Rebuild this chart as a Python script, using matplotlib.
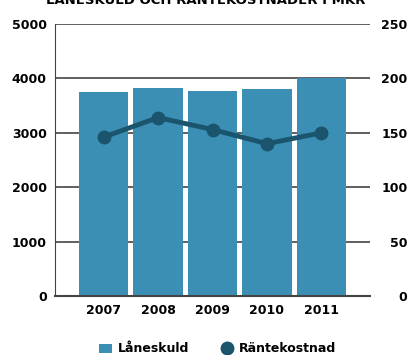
import matplotlib.pyplot as plt
import numpy as np
from matplotlib.lines import Line2D
from matplotlib.patches import Patch

# data
years = ["2007", "2008", "2009", "2010", "2011"]
laneskuld = [3750, 3825, 3770, 3805, 4005]
rantekostnad = [146, 164, 153, 140, 150]

bar_color = "#3b8fb4"
line_color = "#1b546d"

fig = plt.figure(figsize=(4.11, 3.55), dpi=100)
ax = fig.add_axes([55 / 411, 1 - 296 / 355, 315 / 411, 272 / 355])
ax2 = ax.twinx()

x = np.arange(len(years))
ax.bar(x, laneskuld, width=0.9, color=bar_color, zorder=2)
ax.set_ylim(0, 5000)
ax.set_xlim(-0.89, 4.89)
ax.set_yticks(range(0, 5001, 1000))
ax.grid(axis="y", color="#444444", linewidth=1.2, zorder=0)
ax.set_axisbelow(True)
ax.set_xticks(x)
ax.set_xticklabels(years)

ax2.plot(x, rantekostnad, color=line_color, linewidth=3.5, marker="o",
         markersize=9, zorder=3)
ax2.set_ylim(0, 250)
ax2.set_yticks(range(0, 251, 50))

for a in (ax, ax2):
    for s in ("top", "right"):
        a.spines[s].set_visible(False)
    a.tick_params(length=0, labelsize=9)
    for lbl in a.get_xticklabels() + a.get_yticklabels():
        lbl.set_fontweight("bold")
ax2.spines["left"].set_visible(False)
ax2.spines["bottom"].set_visible(False)
ax.spines["left"].set_color("#444444")
ax.spines["bottom"].set_color("#444444")
ax.spines["bottom"].set_linewidth(1.5)
ax.tick_params(axis="y", pad=6)
ax.tick_params(axis="x", pad=6)
ax2.tick_params(axis="y", pad=27)
for lbl in ax2.get_yticklabels():
    lbl.set_horizontalalignment("right")

# title is clipped at the top in the reference
fig.text(0.5, 0.998, "LÅNESKULD OCH RÄNTEKOSTNADER I MKR", ha="center",
         va="center", fontsize=9.5, fontweight="bold")

handles = [Patch(facecolor=bar_color, label="Låneskuld"),
           Line2D([], [], color=line_color, marker="o", linestyle="none",
                  markersize=9, label="Räntekostnad")]
fig.legend(handles=handles, loc="center", bbox_to_anchor=(0.53, 1 - 349 / 355),
           ncol=2, frameon=False, prop={"weight": "bold", "size": 9},
           handlelength=1.0, columnspacing=2.5, handletextpad=0.5)

plt.savefig("out.png", dpi=100)
